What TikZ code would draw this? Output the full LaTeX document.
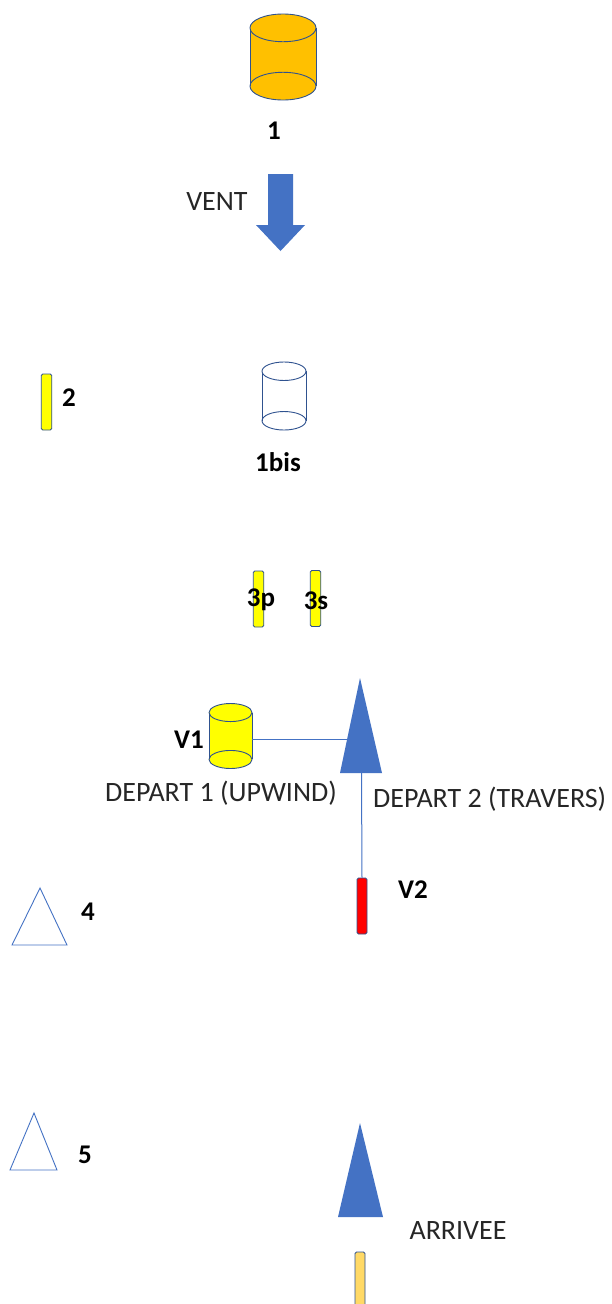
\documentclass[tikz,border=0pt]{standalone}
\usepackage{fontspec}
\setmainfont{Carlito}
\usetikzlibrary{calc}

\definecolor{bleu}{HTML}{4472C4}
\definecolor{contour}{HTML}{2F528F}
\definecolor{orange1}{HTML}{FFC000}
\definecolor{jaune}{HTML}{FFFF00}
\definecolor{rouge}{HTML}{FF0000}
\definecolor{or1}{HTML}{FFD966}
\definecolor{texte}{HTML}{262626}

\tikzset{
  pics/tonneau/.style n args={3}{code={
    \fill[#1] ({-#2},{-#3/2+0.42*#2}) rectangle ({#2},{#3/2-0.42*#2});
    \filldraw[fill=#1, draw=contour, line width=0.9pt] (0,{#3/2-0.42*#2}) ellipse[x radius=#2, y radius={0.42*#2}];
    \draw[contour, line width=0.9pt] ({-#2},{-#3/2+0.42*#2}) -- ({-#2},{#3/2-0.42*#2})
                                     ({#2},{-#3/2+0.42*#2}) -- ({#2},{#3/2-0.42*#2});
    \filldraw[fill=#1, draw=contour, line width=0.9pt] (0,{-#3/2+0.42*#2}) ellipse[x radius=#2, y radius={0.42*#2}];
    \coordinate (-est) at ({#2},3);
  }},
  barre/.style={draw=contour, line width=0.9pt, rounded corners=1.5pt, minimum width=10.5, minimum height=56, inner sep=0pt},
  num/.style={font=\fontsize{27}{31}\selectfont\bfseries, text=black, inner sep=0pt},
  info/.style={font=\fontsize{28}{32}\selectfont, text=texte, inner sep=0pt},
  trait/.style={bleu, line width=1pt}
}

\begin{document}
\begin{tikzpicture}[x=1pt, y=-1pt]
\useasboundingbox[fill=white] (0,0) rectangle (611,1304);

% bouee 1 et vent
\pic (b1) at (283,57) {tonneau={orange1}{33}{86}};
\node[num] (l1) at (274,131) {1};
\fill[bleu] (268,174) -- (293,174) -- (293,225) -- (305,225) -- (280.5,251) -- (256,225) -- (268,225) -- cycle;
\node[info] (vent) at (217,202) {VENT};

% bouees 2, 1bis, 3p, 3s
\node[barre, fill=jaune] (b2) at (46.5,402) {};
\node[num] (l2) at (69,398) {2};
\pic (b1bis) at (284,396) {tonneau={white}{22}{68}};
\node[num] (l1bis) at (278,462) {1bis};
\node[barre, fill=jaune] (b3p) at (258.5,599) {};
\node[num] (l3p) at (261,600) {3p};
\node[barre, fill=jaune] (b3s) at (315.5,598.5) {};
\node[num] (l3s) at (316,601) {3s};

% depart
\pic (v1) at (230.5,736) {tonneau={jaune}{21.5}{65}};
\node[num] (lv1) at (189,740) {V1};
\coordinate (d-haut) at (360,678);
\coordinate (d-g) at (340,773);
\coordinate (d-d) at (382,773);
\coordinate (d-base) at (361.5,773);
\fill[bleu] (d-haut) -- (d-d) -- (d-g) -- cycle;
\coordinate (d-flanc) at ($(d-haut)!0.64!(d-g)$);
\draw[trait] (v1-est) -- (v1-est -| d-flanc);
\node[info] (dep1) at (221,793) {DEPART 1 (UPWIND)};
\node[barre, fill=rouge, minimum width=10] (v2) at (362,906) {};
\node[num] (lv2) at (413,890) {V2};
\draw[trait] (d-base) -- (v2.north);
\node[info, anchor=west] (dep2) at (373,799) {DEPART 2 (TRAVERS)};

% bouees 4 et 5
\draw[bleu, line width=0.9pt] (40,888) -- (67,945) -- (12,945) -- cycle;
\node[num] (l4) at (88,912) {4};
\draw[bleu, line width=0.9pt] (34,1113) -- (57,1170) -- (10,1170) -- cycle;
\node[num] (l5) at (85,1155) {5};

% arrivee
\fill[bleu] (360,1123) -- (383,1217) -- (338,1217) -- cycle;
\node[info] (arr) at (458,1231) {ARRIVEE};
\node[barre, fill=or1, minimum width=10, minimum height=80] (fin) at (360,1292) {};

\end{tikzpicture}
\end{document}
